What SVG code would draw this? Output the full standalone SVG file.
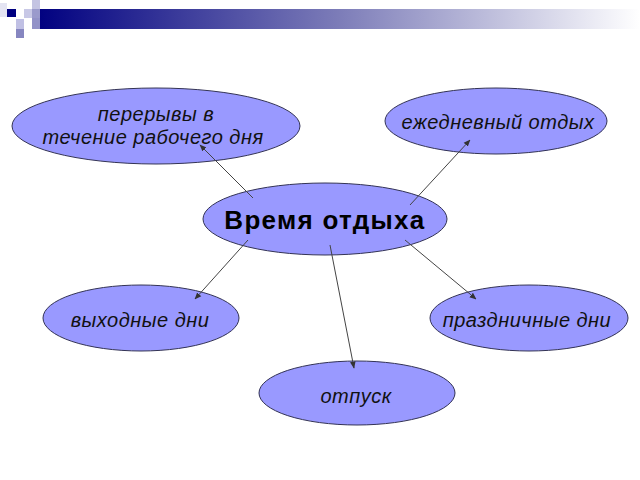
<svg xmlns="http://www.w3.org/2000/svg" width="640" height="480" viewBox="0 0 640 480">
<defs>
<linearGradient id="bar" x1="0" y1="0" x2="1" y2="0">
<stop offset="0" stop-color="#000080"/>
<stop offset="0.5" stop-color="#7c7cb8"/>
<stop offset="1" stop-color="#ffffff"/>
</linearGradient>
<marker id="ah" viewBox="0 0 10 10" refX="9" refY="5" markerWidth="7" markerHeight="7" orient="auto" markerUnits="userSpaceOnUse">
<path d="M0,1 L10,5 L0,9 z" fill="#333"/>
</marker>
<style>
.n ellipse{fill:#9999ff;stroke:#333355;stroke-width:1}
.t{font-family:"Liberation Sans",Arial,sans-serif;font-style:italic;font-size:20px;letter-spacing:0.5px;fill:#111;text-anchor:middle}
.b{font-family:"Liberation Sans",Arial,sans-serif;font-weight:bold;font-size:26px;letter-spacing:1.3px;fill:#000;text-anchor:middle}
.c line{stroke:#444;stroke-width:1;marker-end:url(#ah)}
</style>
</defs>
<rect width="640" height="480" fill="#fff"/>
<g id="decor">
<rect x="36" y="9" width="604" height="20" fill="url(#bar)"/>
<rect x="0" y="3" width="7" height="14" fill="#e4e4f2"/>
<rect x="7" y="9" width="9" height="8" fill="#000080"/>
<rect x="24" y="9" width="8" height="9" fill="#c8c8e6"/>
<rect x="32" y="0" width="8" height="9" fill="#c4c4e2"/>
<rect x="32" y="9" width="8" height="9" fill="#9a9acc"/>
<rect x="16" y="19" width="8" height="10" fill="#c0c0e4"/>
<rect x="16" y="29" width="8" height="9" fill="#8686c0"/>
<rect x="32" y="18" width="8" height="11" fill="#9292c8"/>
</g>
<g class="n" id="n-breaks">
<ellipse cx="156" cy="126" rx="144" ry="38"/>
<text class="t" x="156" y="121">перерывы в</text>
<text class="t" x="153" y="144">течение рабочего дня</text>
</g>
<g class="n" id="n-daily">
<ellipse cx="496" cy="121" rx="111" ry="33"/>
<text class="t" x="498" y="129">ежедневный отдых</text>
</g>
<g class="n" id="n-center">
<ellipse cx="325" cy="219" rx="122" ry="36"/>
<text class="b" x="325" y="229">Время отдыха</text>
</g>
<g class="n" id="n-weekend">
<ellipse cx="141" cy="318" rx="98" ry="33"/>
<text class="t" x="140" y="327">выходные дни</text>
</g>
<g class="n" id="n-holiday">
<ellipse cx="529" cy="318" rx="99" ry="33"/>
<text class="t" x="527" y="327">праздничные дни</text>
</g>
<g class="n" id="n-vacation">
<ellipse cx="357" cy="393" rx="98" ry="32"/>
<text class="t" x="356" y="403">отпуск</text>
</g>
<g class="c" id="connectors">
<line x1="253" y1="198" x2="200" y2="145"/>
<line x1="410" y1="205" x2="470" y2="140"/>
<line x1="248" y1="240" x2="195" y2="299"/>
<line x1="405" y1="240" x2="476" y2="299"/>
<line x1="330" y1="245" x2="354" y2="368"/>
</g>
</svg>
